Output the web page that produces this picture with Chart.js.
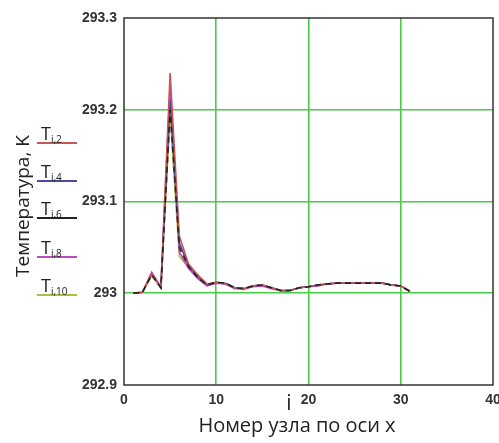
<!DOCTYPE html>
<html>
<head>
<meta charset="utf-8">
<script src="https://cdn.jsdelivr.net/npm/chart.js@4"></script>
<style>
  body { margin: 0; background: #fff; }
  #wrap { position: relative; width: 499px; height: 443px; }
  #ytitle {
    position: absolute; left: 22px; top: 206px;
    transform: translate(-50%, -50%) rotate(-90deg);
    font: 19px 'Open Sans', sans-serif; color: #222; white-space: nowrap;
  }
  .leg {
    position: absolute; left: 37px; width: 40px; height: 20px;
    font: 18px 'Open Sans', sans-serif; color: #222; line-height: 18px;
    padding-left: 4px; box-sizing: border-box;
  }
  .leg sub { font-size: 10px; vertical-align: -3px; }
  #ivar { position: absolute; left: 289px; top: 388px; font: 21px 'Open Sans', sans-serif; color: #222; transform: translateX(-50%); }
  #xtitle { position: absolute; left: 297px; top: 411px; font: 20px 'Open Sans', sans-serif; color: #222; transform: translateX(-50%); white-space: nowrap; }
</style>
</head>
<body>
<div id="wrap">
  <canvas id="chart" width="499" height="443"></canvas>
  <div id="ytitle">Температура, K</div>
  <div id="ivar">i</div>
  <div id="xtitle">Номер узла по оси x</div>
</div>
<script>
// node numbers along x
const nodes = [1, 2, 3, 4, 5, 6, 7, 8, 9, 10, 11, 12, 13, 14, 15, 16, 17, 18, 19, 20, 21, 22, 23, 24, 25, 26, 27, 28, 29, 30, 31];

// temperature series, K
const t2 = [293.000, 293.001, 293.022, 293.006, 293.240, 293.062, 293.032, 293.020, 293.010, 293.012, 293.010, 293.006, 293.005, 293.008, 293.009, 293.006, 293.003, 293.003, 293.006, 293.007, 293.009, 293.010, 293.011, 293.011, 293.011, 293.011, 293.011, 293.011, 293.009, 293.008, 293.002];
const t4 = [293.000, 293.001, 293.021, 293.006, 293.210, 293.055, 293.030, 293.018, 293.009, 293.012, 293.011, 293.006, 293.005, 293.008, 293.009, 293.006, 293.003, 293.003, 293.006, 293.007, 293.009, 293.010, 293.011, 293.011, 293.011, 293.011, 293.011, 293.011, 293.009, 293.008, 293.002];
const t6 = [293.000, 293.001, 293.020, 293.006, 293.200, 293.050, 293.029, 293.017, 293.009, 293.012, 293.011, 293.006, 293.005, 293.008, 293.009, 293.006, 293.003, 293.003, 293.006, 293.007, 293.009, 293.010, 293.011, 293.011, 293.011, 293.011, 293.011, 293.011, 293.009, 293.008, 293.002];
const t8 = [293.000, 293.001, 293.023, 293.007, 293.225, 293.045, 293.027, 293.016, 293.008, 293.011, 293.010, 293.005, 293.005, 293.007, 293.008, 293.005, 293.003, 293.003, 293.006, 293.007, 293.008, 293.010, 293.011, 293.011, 293.011, 293.011, 293.011, 293.011, 293.009, 293.008, 293.002];
const t10 = [293.000, 293.001, 293.019, 293.006, 293.195, 293.040, 293.028, 293.017, 293.009, 293.012, 293.010, 293.006, 293.004, 293.008, 293.009, 293.006, 293.002, 293.003, 293.006, 293.007, 293.009, 293.010, 293.011, 293.011, 293.011, 293.011, 293.011, 293.011, 293.009, 293.008, 293.002];

const seriesNames = ['i,2', 'i,4', 'i,6', 'i,8', 'i,10'];
const xTicks = [0, 10, 20, 30, 40];
const xTickLabels = ['0', '10', '20', '30', '40'];
const yTicks = [292.9, 293, 293.1, 293.2, 293.3];
const yTickLabels = ['292.9', '293', '293.1', '293.2', '293.3'];

const colors = ['#c85555', '#4848a8', '#222222', '#c048c0', '#b4bc3c'];
const dashes = [[], [], [6, 4], [], []];
const legendTops = [124, 162, 199, 238, 276];

const allSeries = [t2, t4, t6, t8, t10];

// legend at the left side, like the original
const wrap = document.getElementById('wrap');
seriesNames.forEach((name, k) => {
  const d = document.createElement('div');
  d.className = 'leg';
  d.style.top = legendTops[k] + 'px';
  d.style.borderBottom = '2px solid ' + colors[k];
  d.innerHTML = 'T<sub>' + name + '</sub>';
  wrap.appendChild(d);
});

const datasets = allSeries.map((s, k) => ({
  label: 'T' + seriesNames[k],
  data: s.map((v, j) => ({ x: nodes[j], y: v })),
  borderColor: colors[k],
  borderWidth: 1.6,
  borderDash: dashes[k],
  pointRadius: 0,
  tension: 0,
  fill: false,
  order: [2, 3, 1, 4, 5][k]
}));

// black frame around the plot
const frame = {
  id: 'frame',
  afterDatasetsDraw(chart) {
    const a = chart.chartArea;
    const c = chart.ctx;
    c.save();
    c.strokeStyle = '#333';
    c.lineWidth = 1.5;
    c.strokeRect(a.left, a.top, a.right - a.left, a.bottom - a.top);
    c.restore();
  }
};

const tickFont = { family: 'Liberation Sans', size: 14, weight: 'bold' };
const gridColor = ctx => (ctx.index === 0 || ctx.index === 4) ? 'rgba(0,0,0,0)' : '#46cc46';

new Chart(document.getElementById('chart'), {
  type: 'line',
  data: { datasets: datasets },
  options: {
    responsive: false,
    animation: false,
    layout: { padding: { top: 18, right: 6, left: 0, bottom: 0 } },
    plugins: { legend: { display: false }, tooltip: { enabled: false } },
    scales: {
      x: {
        type: 'linear',
        min: 0,
        max: 40,
        afterBuildTicks: s => { s.ticks = xTicks.map(v => ({ value: v })); },
        afterFit: s => { s.height = 58; s.paddingRight = 0; s.paddingLeft = 0; },
        border: { display: false },
        grid: { color: gridColor, lineWidth: 1.6, drawTicks: false },
        ticks: {
          padding: 7,
          color: '#333',
          font: tickFont,
          maxRotation: 0,
          callback: (v, i) => xTickLabels[i]
        }
      },
      y: {
        min: 292.9,
        max: 293.3,
        afterBuildTicks: s => { s.ticks = yTicks.map(v => ({ value: v })); },
        afterFit: s => { s.width = 124; s.paddingTop = 0; s.paddingBottom = 0; },
        border: { display: false },
        grid: { color: gridColor, lineWidth: 1.6, drawTicks: false },
        ticks: {
          padding: 7,
          color: '#333',
          font: tickFont,
          callback: (v, i) => yTickLabels[i]
        }
      }
    }
  },
  plugins: [frame]
});
</script>
</body>
</html>
